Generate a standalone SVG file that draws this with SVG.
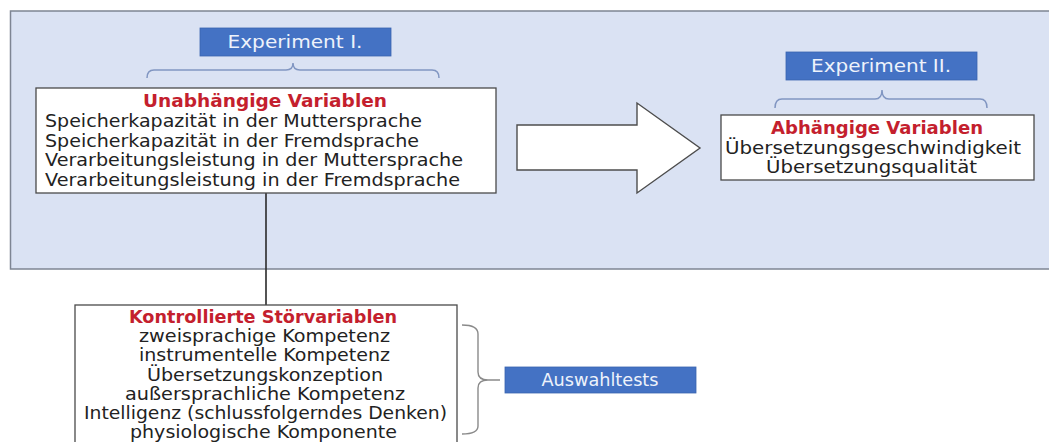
<svg xmlns="http://www.w3.org/2000/svg" width="1049" height="442" viewBox="0 0 1049 442">
  <style>
    .panel { fill: #dae2f3; stroke: #7e8593; stroke-width: 1.5; }
    .tag { fill: #4472c4; stroke: #3a64b0; stroke-width: 0.8; }
    .tagtxt { font-family: "DejaVu Sans", "Liberation Sans", sans-serif; font-size: 17.5px; fill: #eef2fb; text-anchor: middle; }
    .box { fill: #ffffff; stroke: #4a4a4a; stroke-width: 1.3; }
    .title { font-family: "DejaVu Sans", "Liberation Sans", sans-serif; font-size: 17px; font-weight: bold; fill: #c41f2e; }
    .body { font-family: "DejaVu Sans", "Liberation Sans", sans-serif; font-size: 17px; fill: #222222; }
    .mid { text-anchor: middle; }
    .brace { fill: none; stroke: #8196c2; stroke-width: 1.5; }
    .brace-grey { fill: none; stroke: #8a8a8a; stroke-width: 1.4; }
    .link { fill: none; stroke: #2a2a2a; stroke-width: 1.6; }
    .bigarrow { fill: #ffffff; stroke: #4d4d4d; stroke-width: 1.4; stroke-linejoin: miter; }
  </style>

  <rect width="1049" height="442" fill="#ffffff"/>

  <!-- shaded experiment area -->
  <rect class="panel" x="10.5" y="11" width="1050" height="258"/>

  <!-- connectors and braces -->
  <g id="connectors">
    <path class="brace" d="M147,78 Q147,70 154,70 L286,70 Q293,70 293,63 Q293,70 300,70 L432,70 Q439,70 439,78"/>
    <path class="brace" d="M775,108 Q775,99 782,99 L875,99 Q882,99 882,90 Q882,99 889,99 L980,99 Q987,99 987,108"/>
    <line class="link" x1="266" y1="193" x2="266" y2="305"/>
    <path class="brace-grey" d="M462,325 Q478,325 478,334 L478,372 Q478,380 488,380 L500,380 M488,380 Q478,380 478,388 L478,426 Q478,434 462,434"/>
    <polygon class="bigarrow" points="517,125 637,125 637,103 700,148 637,193 637,170 517,170"/>
  </g>

  <g id="experiment1">
    <rect class="tag" x="200" y="28" width="191" height="28"/>
    <text class="tagtxt" x="295" y="48" textLength="135" lengthAdjust="spacingAndGlyphs">Experiment I.</text>
  </g>

  <g id="experiment2">
    <rect class="tag" x="786" y="52" width="191" height="28"/>
    <text class="tagtxt" x="881" y="72" textLength="140" lengthAdjust="spacingAndGlyphs">Experiment II.</text>
  </g>

  <g id="independent">
    <rect class="box" x="36" y="88" width="460" height="105"/>
    <text class="title mid" x="265" y="107" textLength="244" lengthAdjust="spacingAndGlyphs">Unabhängige  Variablen</text>
    <text class="body" x="45" y="127" textLength="377" lengthAdjust="spacingAndGlyphs">Speicherkapazität in der Muttersprache</text>
    <text class="body" x="45" y="147" textLength="374" lengthAdjust="spacingAndGlyphs">Speicherkapazität in der Fremdsprache</text>
    <text class="body" x="45" y="166" textLength="418" lengthAdjust="spacingAndGlyphs">Verarbeitungsleistung in der Muttersprache</text>
    <text class="body" x="45" y="186" textLength="415" lengthAdjust="spacingAndGlyphs">Verarbeitungsleistung in der Fremdsprache</text>
  </g>

  <g id="dependent">
    <rect class="box" x="721" y="115" width="313" height="65"/>
    <text class="title mid" x="877" y="134" textLength="212" lengthAdjust="spacingAndGlyphs">Abhängige Variablen</text>
    <text class="body mid" x="873" y="154" textLength="296" lengthAdjust="spacingAndGlyphs">Übersetzungsgeschwindigkeit</text>
    <text class="body mid" x="871.5" y="173" textLength="211" lengthAdjust="spacingAndGlyphs">Übersetzungsqualität</text>
  </g>

  <g id="controlled">
    <rect class="box" x="75" y="305" width="382" height="150"/>
    <text class="title mid" x="263" y="323" textLength="268" lengthAdjust="spacingAndGlyphs">Kontrollierte Störvariablen</text>
    <text class="body mid" x="264.5" y="342" textLength="251" lengthAdjust="spacingAndGlyphs">zweisprachige Kompetenz</text>
    <text class="body mid" x="264.5" y="361" textLength="251" lengthAdjust="spacingAndGlyphs">instrumentelle Kompetenz</text>
    <text class="body mid" x="265" y="381" textLength="236" lengthAdjust="spacingAndGlyphs">Übersetzungskonzeption</text>
    <text class="body mid" x="265" y="400" textLength="280" lengthAdjust="spacingAndGlyphs">außersprachliche Kompetenz</text>
    <text class="body mid" x="265.5" y="419" textLength="363" lengthAdjust="spacingAndGlyphs">Intelligenz (schlussfolgerndes Denken)</text>
    <text class="body mid" x="263.5" y="438" textLength="267" lengthAdjust="spacingAndGlyphs">physiologische Komponente</text>
  </g>

  <g id="selection">
    <rect class="tag" x="505" y="367" width="191" height="26"/>
    <text class="tagtxt" x="600" y="386" textLength="117" lengthAdjust="spacingAndGlyphs">Auswahltests</text>
  </g>
</svg>
